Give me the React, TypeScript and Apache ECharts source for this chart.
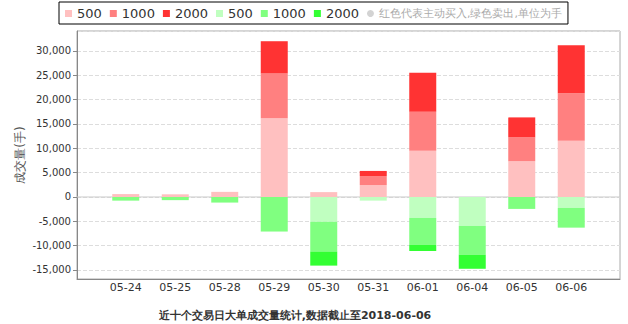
import React, { useEffect, useRef } from 'react';
import * as echarts from 'echarts';

const dates = ['05-24', '05-25', '05-28', '05-29', '05-30', '05-31', '06-01', '06-04', '06-05', '06-06'];
const buy500 = [600, 550, 1050, 16200, 1000, 2450, 9500, 0, 7350, 11550];
const buy1000 = [0, 0, 0, 9200, 0, 1850, 8000, 0, 4900, 9750];
const buy2000 = [0, 0, 0, 6600, 0, 1050, 8000, 0, 4100, 9850];
const sell500 = [0, 0, 0, 0, -5100, -750, -4300, -5950, 0, -2250];
const sell1000 = [-750, -650, -1150, -7100, -6100, 0, -5550, -5900, -2450, -4050];
const sell2000 = [0, 0, 0, 0, -2900, 0, -1250, -2900, 0, 0];

const seriesNames = ['买入500', '买入1000', '买入2000', '卖出500', '卖出1000', '卖出2000'];
const noteText = '红色代表主动买入,绿色卖出,单位为手';
const yAxisName = '成交量(手)';
const footerText = '近十个交易日大单成交量统计,数据截止至';
const footerDate = '2018-06-06';
const yMin = -16850;
const yMax = 34100;

export default function App() {
  const ref = useRef<HTMLDivElement>(null);
  useEffect(() => {
    const chart = echarts.init(ref.current!, null, { renderer: 'svg' });
    const font = 'DejaVu Sans';
    const values = [buy500, buy1000, buy2000, sell500, sell1000, sell2000];
    const colors = ['#ffc0c0', '#ff8080', '#ff3333', '#c0ffc0', '#80ff80', '#33ff33'];
    const bars = seriesNames.map((name, i) => ({
      name,
      type: 'bar',
      stack: 'total',
      xAxisIndex: 1,
      yAxisIndex: 1,
      barWidth: 27,
      data: values[i],
      itemStyle: { color: colors[i] },
      z: 3,
    }));
    chart.setOption({
      animation: false,
      textStyle: { fontFamily: font },
      legend: {
        left: 59,
        top: 2,
        padding: [5, 6, 4, 6],
        borderColor: '#000',
        borderWidth: 1,
        itemWidth: 7,
        itemHeight: 7,
        itemGap: 8,
        textStyle: { fontSize: 13, color: '#333', fontFamily: font },
        formatter: (n: string) => n.replace(/^(买入|卖出)/, ''),
        data: [
          ...seriesNames.map((name) => ({ name, icon: 'rect' })),
          { name: noteText, icon: 'circle', textStyle: { color: '#aaa', fontSize: 11 } },
        ],
      },
      grid: [
        { left: 77, right: 8, top: 31, bottom: 45, show: true, borderColor: '#aaa', borderWidth: 1, backgroundColor: 'transparent' },
        { left: 101, right: 32, top: 31, bottom: 45 },
      ],
      xAxis: [
        {
          type: 'value', gridIndex: 0, min: 0, max: 1,
          axisLine: { show: true, onZero: false, lineStyle: { color: '#888' } },
          axisTick: { show: false }, axisLabel: { show: false }, splitLine: { show: false },
        },
        {
          type: 'category', gridIndex: 1, data: dates,
          axisLine: { show: false }, axisTick: { show: false },
          axisLabel: { fontSize: 11, color: '#333', margin: 3, fontFamily: font },
        },
      ],
      yAxis: [
        {
          type: 'value', gridIndex: 0, min: yMin, max: yMax, splitNumber: 10,
          axisLine: { show: true, lineStyle: { color: '#888' } },
          axisTick: { show: true, length: 4, lineStyle: { color: '#888' } },
          axisLabel: { fontSize: 10, color: '#333', margin: 6, showMinLabel: false, showMaxLabel: false, fontFamily: font },
          splitLine: { show: true, lineStyle: { type: 'dashed', color: '#ddd' } },
        },
        { type: 'value', gridIndex: 1, min: yMin, max: yMax, show: false, splitLine: { show: false } },
      ],
      graphic: [
        {
          type: 'text', x: 20, y: 155, rotation: Math.PI / 2,
          style: { text: yAxisName, fontSize: 12, fill: '#555', fontFamily: font, align: 'center', verticalAlign: 'middle' },
        },
        {
          type: 'text', x: 295, y: 315,
          style: { text: footerText + footerDate, fontSize: 11, fontWeight: 'bold', fill: '#333', fontFamily: font, align: 'center', verticalAlign: 'middle' },
        },
      ],
      series: [
        {
          type: 'line', xAxisIndex: 0, yAxisIndex: 0, data: [[0, 0], [1, 0]],
          symbol: 'none', silent: true, z: 1, lineStyle: { color: '#ccc', width: 1 },
        },
        ...bars,
        { name: noteText, type: 'scatter', xAxisIndex: 1, yAxisIndex: 1, data: [], itemStyle: { color: '#c8c8c8' } },
      ],
    });
    return () => chart.dispose();
  }, []);
  return <div ref={ref} style={{ position: 'absolute', left: 0, top: 0, width: 628, height: 324 }} />;
}
